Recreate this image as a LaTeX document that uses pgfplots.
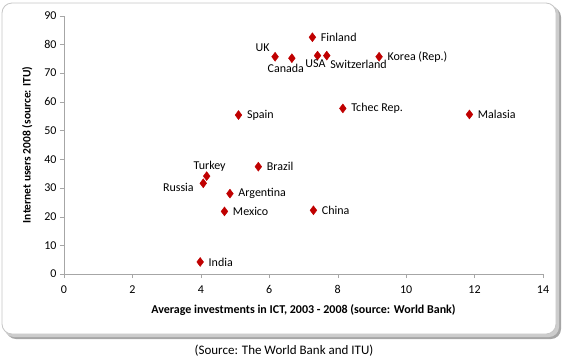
\documentclass[border=0pt]{standalone}
\usepackage{pgfplots}
\pgfplotsset{compat=1.18}
\usepackage{fontspec}
\setmainfont{Carlito}
\definecolor{mk}{RGB}{192,0,0}
\begin{document}
\begin{tikzpicture}
\path[use as bounding box] (0pt,0pt) rectangle (568pt,-360pt);
% shadow and frame
\fill[gray!70, rounded corners=10pt] (6pt,-7pt) rectangle (561pt,-339pt);
\fill[gray!40, rounded corners=10pt] (4pt,-5pt) rectangle (559pt,-337pt);
\filldraw[fill=white, draw=gray!45, line width=0.8pt, rounded corners=10pt] (2pt,-3pt) rectangle (556pt,-334pt);
\begin{axis}[
  at={(64pt,-274pt)}, anchor=south west,
  scale only axis, width=479pt, height=258.3pt,
  xmin=0, xmax=14, ymin=0, ymax=90,
  xtick={0,2,...,14}, ytick={0,10,...,90},
  axis x line*=bottom, axis y line*=left,
  axis line style={gray!70},
  tick style={gray!70, major tick length=4pt},
  tick align=outside,
  /pgf/number format/assume math mode=true,
  ticklabel style={font=\fontsize{12}{14}\selectfont},
  xticklabel style={yshift=-4pt},
  xlabel={\textbf{Average investments in ICT, 2003 - 2008 (source: World Bank)}},
  ylabel={\textbf{Internet users 2008 (source: ITU)}},
  xlabel style={font=\fontsize{12}{14}\selectfont, yshift=-4pt},
  ylabel style={font=\fontsize{11.5}{14}\selectfont, yshift=5pt},
  clip=false,
  nodes near coords,
  point meta=explicit symbolic,
  every node near coord/.append style={font=\fontsize{12}{14}\selectfont},
]
\addplot[only marks, mark=diamond*, mark size=4.5pt, mark options={fill=mk, draw=mk},
  visualization depends on={value \thisrow{anc} \as \anc},
  visualization depends on={value \thisrow{dx} \as \dx},
  visualization depends on={value \thisrow{dy} \as \dy},
  every node near coord/.append style={anchor=\anc, xshift=\dx pt, yshift=\dy pt}]
  table[meta=label] {
x y label anc dx dy
7.26 82.5 Finland west 5 0
6.17 75.7 UK {south east} -2 2
6.66 75.2 Canada north -6 -2
7.41 76.1 USA {north} -2 -1
7.68 76.1 Switzerland {north west} 0 -1
9.21 75.7 {Korea (Rep.)} west 5 0
8.15 57.7 {Tchec Rep.} west 5 0
11.85 55.6 Malasia west 5 0
5.10 55.4 Spain west 5 0
5.68 37.4 Brazil west 5 0
4.17 34.1 Turkey south 3 1
4.07 31.6 Russia east -6 -4
4.85 28.0 Argentina west 5 0
4.69 21.8 Mexico west 5 0
3.98 4.2 India west 5 0
7.29 22.2 China west 5 0
};
\end{axis}
\node[font=\fontsize{13}{15}\selectfont] at (284pt,-351pt) {(Source: The World Bank and ITU)};
\end{tikzpicture}
\end{document}
